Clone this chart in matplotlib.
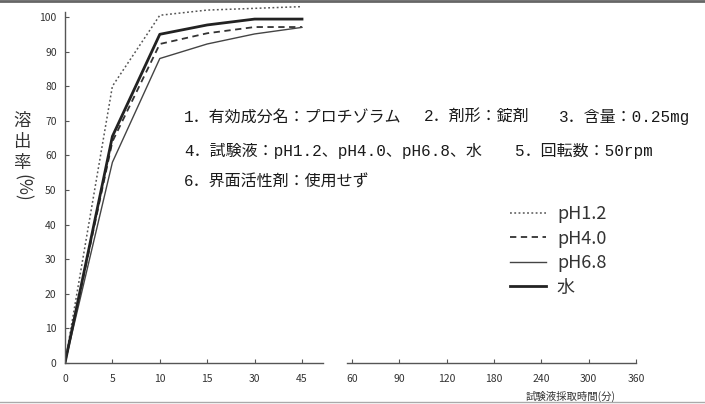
import numpy as np
import matplotlib
matplotlib.use('Agg')
from matplotlib import pyplot as plt
from matplotlib.lines import Line2D

plt.rcParams['font.family'] = ['Noto Sans CJK JP', 'DejaVu Sans']

# sampling times (min) with data, and the extra tick labels on the broken axis
times = [0, 5, 10, 15, 30, 45]
late_times = [60, 90, 120, 180, 240, 300, 360]

# dissolution (%)
ph12 = [0, 80, 100.5, 102, 102.5, 103]
ph40 = [0, 64, 92.2, 95.3, 97.1, 97.1]
ph68 = [0, 58, 88, 92.2, 95.1, 97]
water = [0, 65.5, 95, 97.7, 99.4, 99.4]

series_labels = ['pH1.2', 'pH4.0', 'pH6.8', '水']

# condition notes, one list per text row
info_row1 = ['1．有効成分名：プロチゾラム', '2．剤形：錠剤', '3．含量：0.25mg']
info_row2 = ['4．試験液：pH1.2、pH4.0、pH6.8、水', '5．回転数：50rpm']
info_row3 = ['6．界面活性剤：使用せず']

W, H = 705, 404
fig = plt.figure(figsize=(W / 100, H / 100), dpi=100)


def px(x, y):
    # figure pixel (from top-left) -> figure fraction
    return x / W, 1 - y / H


# axis: 47.4 px per tick step, y 0 at row 363, 3.46 px per %
left, bottom = px(65, 363)
ax = fig.add_axes([left, bottom, 12.5 * 47.4 / W, 363 / H])
ax.set_xlim(0, 12.5)
ax.set_ylim(0, 363 / 3.46)

pos_early = np.arange(len(times))
pos_late = 6.05 + np.arange(len(late_times))

styles = [
    dict(linestyle=(0, (1.2, 1.6)), color='#555555', lw=1.1),
    dict(linestyle=(0, (3.5, 2.5)), color='#333333', lw=1.3),
    dict(linestyle='-', color='#444444', lw=1.0),
    dict(linestyle='-', color='#222222', lw=2.0),
]
for vals, st in zip([ph12, ph40, ph68, water], styles):
    ax.plot(pos_early, vals, **st)

for s in ['top', 'right', 'bottom']:
    ax.spines[s].set_visible(False)
ax.spines['left'].set_bounds(0, 101.5)
ax.spines['left'].set_color('#555555')
ax.spines['left'].set_linewidth(1.0)

# broken x axis drawn as two segments
ax.plot([0, 5.44], [0, 0], color='#555555', lw=1.0, clip_on=False)
ax.plot([5.95, 12.05], [0, 0], color='#555555', lw=1.0, clip_on=False)

ax.set_yticks(np.arange(0, 101, 10))
ax.set_xticks(list(pos_early) + list(pos_late))
ax.set_xticklabels([str(t) for t in times + late_times])
ax.tick_params(axis='both', direction='in', length=3, color='#555555',
               labelsize=7.5, labelcolor='#333333')
ax.tick_params(axis='x', pad=8)
ax.tick_params(axis='y', pad=6)

# stacked vertical y label
for ch, yy in zip('溶出率', [121, 142, 163]):
    fig.text(*px(22, yy), ch, ha='center', va='center', fontsize=12.5,
             color='#333333', rotation=0)
fig.text(*px(22, 188), '(%)', ha='center', va='center', fontsize=12.5,
         rotation=270, color='#333333')

fig.text(*px(571, 396), '試験液採取時間(分)', ha='center', va='center',
         fontsize=7.5, color='#333333')

# monospaced latin like the typewritten original, CJK from Noto
txt = dict(ha='left', va='center', fontsize=11.5, color='#1a1a1a',
           family=['Liberation Mono', 'Noto Sans CJK JP'])
for s, xx in zip(info_row1, [184, 424, 559]):
    fig.text(*px(xx, 117), s, **txt)
for s, xx in zip(info_row2, [184, 515]):
    fig.text(*px(xx, 151), s, **txt)
for s, xx in zip(info_row3, [184]):
    fig.text(*px(xx, 182), s, **txt)

handles = [Line2D([], [], **st) for st in styles]
fig.legend(handles, series_labels, loc='upper left', bbox_to_anchor=px(510, 205),
           frameon=False, fontsize=13, handlelength=2.0, handletextpad=0.6,
           labelspacing=0.36, borderpad=0, borderaxespad=0, labelcolor='#333333')

# scan border
fig.add_artist(Line2D([0, 1], [1 - 1 / H, 1 - 1 / H], color='#666666', lw=2))
fig.add_artist(Line2D([0, 1], [2 / H, 2 / H], color='#aaaaaa', lw=1))

fig.savefig('out.png', dpi=100)
